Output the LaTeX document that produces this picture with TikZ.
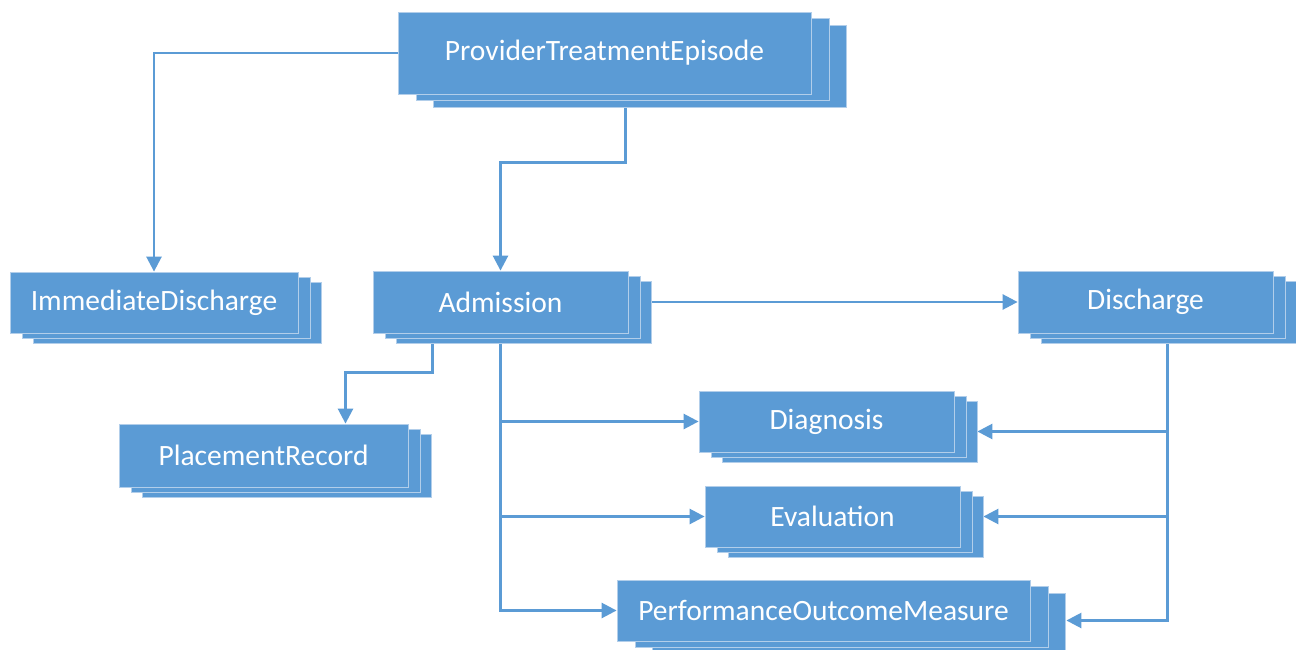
\documentclass[tikz,border=0pt]{standalone}
\usepackage{fontspec}
\setmainfont{Carlito}
\usepackage{tikz}
\usetikzlibrary{positioning,shadows,arrows.meta,backgrounds}
\definecolor{boxblue}{RGB}{91,155,213}
\definecolor{boxedge}{RGB}{178,206,234}
\tikzset{
  entity/.style={fill=boxblue,draw=boxedge,line width=0.8pt,text=white,inner sep=0pt,
    minimum height=61pt,font=\fontsize{29.5}{35}\selectfont},
  stackbox/.style={entity,
    general shadow={shadow xshift=23pt,shadow yshift=-10pt,fill=boxblue,draw=boxedge},
    general shadow={shadow xshift=12pt,shadow yshift=-5pt,fill=boxblue,draw=boxedge}},
  stackbig/.style={entity,
    general shadow={shadow xshift=35pt,shadow yshift=-13pt,fill=boxblue,draw=boxedge},
    general shadow={shadow xshift=18pt,shadow yshift=-6pt,fill=boxblue,draw=boxedge}},
  link/.style={draw=boxblue,line width=2.6pt,-{Triangle[length=15pt,width=15pt]}}
}

\begin{document}
\begin{tikzpicture}[x=1pt,y=-1pt]
\useasboundingbox (0,0) rectangle (1296,650);
\node[stackbig,minimum width=413pt,minimum height=82pt] (episode) at (604.5,53) {ProviderTreatmentEpisode};
\node[stackbox,minimum width=288pt] (immediate) at (154,302.5) {ImmediateDischarge};
\node[stackbox,minimum width=255pt,minimum height=62pt] (admission) at (500.5,302) {Admission};
\node[stackbox,minimum width=255pt,minimum height=62pt] (discharge) at (1145.5,302) {Discharge};
\node[stackbox,minimum width=289pt,minimum height=63pt] (placement) at (263.5,455.5) {PlacementRecord};
\node[stackbox,minimum width=255pt] (diagnosis) at (826.5,421.5) {Diagnosis};
\node[stackbox,minimum width=255pt] (evaluation) at (832.5,516.5) {Evaluation};
\node[stackbig,minimum width=413pt] (outcome) at (823.5,610.5) {PerformanceOutcomeMeasure};
\begin{scope}[on background layer]
\fill[white] (0,0) rectangle (1296,650);
\draw[link] (episode.west) -| (immediate.north);
\draw[link] ([xshift=21pt]episode.south) -- ++(0,68) -| (admission.north);
\draw[link] (admission.east) -- (discharge.west);
\draw[link] ([xshift=-68pt]admission.south) -- ++(0,39) -| ([xshift=82pt]placement.north);
\draw[link] (admission.south) |- (diagnosis.west);
\draw[link] (admission.south) |- (evaluation.west);
\draw[link] (admission.south) |- (outcome.west);
\draw[link] ([xshift=22pt]discharge.south) |- ([xshift=23pt,yshift=-10pt]diagnosis.east);
\draw[link] ([xshift=22pt]discharge.south) |- ([xshift=23pt]evaluation.east);
\draw[link] ([xshift=22pt]discharge.south) |- ([xshift=36pt,yshift=-10pt]outcome.east);
\end{scope}
\end{tikzpicture}
\end{document}
